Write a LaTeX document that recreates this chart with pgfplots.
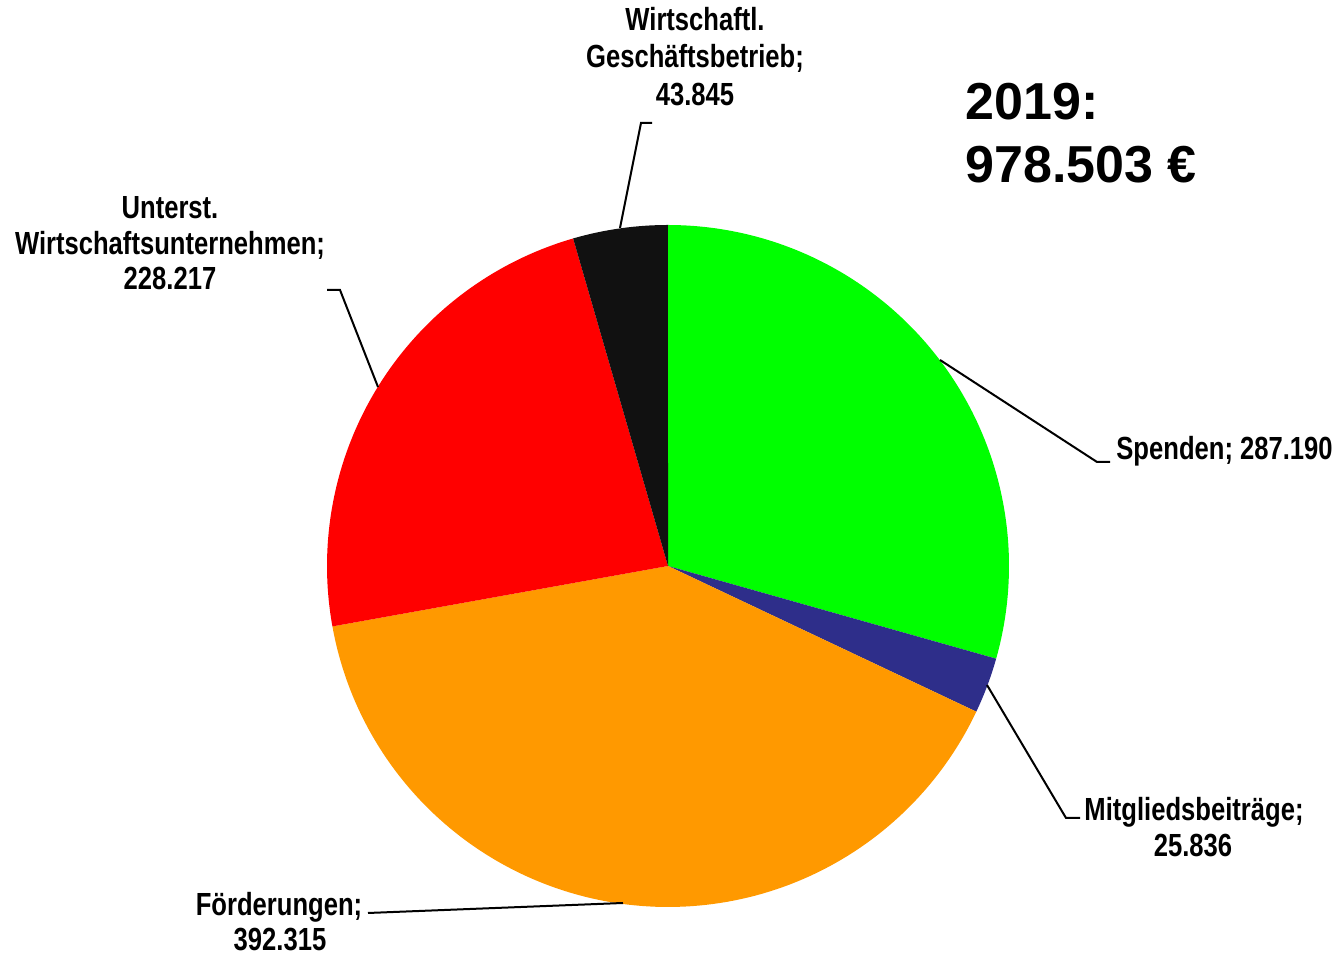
\documentclass[border=0pt]{standalone}
\usepackage{pgfplots}
\pgfplotsset{compat=1.18}
\usepackage{fontspec}
\setmainfont{Liberation Sans}
\newfontfamily\narrow{Liberation Sans}[FakeStretch=0.80]
\definecolor{cGreen}{HTML}{00FF00}
\definecolor{cNavy}{HTML}{2E2E8A}
\definecolor{cOrange}{HTML}{FF9900}
\definecolor{cRed}{HTML}{FF0000}
\definecolor{cBlack}{HTML}{111111}
\tikzset{lbl/.style={font=\narrow\bfseries\fontsize{16pt}{18pt}\selectfont, inner sep=0pt}}
% values in thousand EUR
\def\vA{287.190}% Spenden
\def\vB{25.836}%  Mitgliedsbeitraege
\def\vC{392.315}% Foerderungen
\def\vD{228.217}% Unterst. Wirtschaftsunternehmen
\def\vE{43.845}%  Wirtschaftl. Geschaeftsbetrieb
\pgfmathsetmacro\tot{\vA+\vB+\vC+\vD+\vE}
\pgfmathsetmacro\aO{90}
\pgfmathsetmacro\aA{\aO-\vA/\tot*360}
\pgfmathsetmacro\aB{\aA-\vB/\tot*360}
\pgfmathsetmacro\aC{\aB-\vC/\tot*360}
\pgfmathsetmacro\aD{\aC-\vD/\tot*360}
\pgfmathsetmacro\aE{\aD-\vE/\tot*360}
\begin{document}
\begin{tikzpicture}
\begin{axis}[
  hide axis, scale only axis, width=669pt, height=478pt,
  xmin=0, xmax=1338, ymin=0, ymax=956, clip=false,
  every axis plot/.append style={variable=\t, samples=120},
]
\addplot[draw=none] coordinates {(0,0) (1338,956)};
\addplot[fill=cGreen, draw=none, domain=\aA:\aO] ({668+341*cos(t)},{390+341*sin(t)}) -- (axis cs:668,390) -- cycle;
\addplot[fill=cNavy, draw=none, domain=\aB:\aA] ({668+341*cos(t)},{390+341*sin(t)}) -- (axis cs:668,390) -- cycle;
\addplot[fill=cOrange, draw=none, domain=\aC:\aB] ({668+341*cos(t)},{390+341*sin(t)}) -- (axis cs:668,390) -- cycle;
\addplot[fill=cRed, draw=none, domain=\aD:\aC] ({668+341*cos(t)},{390+341*sin(t)}) -- (axis cs:668,390) -- cycle;
\addplot[fill=cBlack, draw=none, domain=\aE:\aD] ({668+341*cos(t)},{390+341*sin(t)}) -- (axis cs:668,390) -- cycle;
% leader lines
\addplot[black, line width=1pt, mark=none] coordinates {(940,596) (1097,494) (1110,494)};
\addplot[black, line width=1pt, mark=none] coordinates {(987,271) (1066,138) (1080,138)};
\addplot[black, line width=1pt, mark=none] coordinates {(623,53) (368,43)};
\addplot[black, line width=1pt, mark=none] coordinates {(378,569) (340,666) (327,666)};
\addplot[black, line width=1pt, mark=none] coordinates {(620,728) (641,833) (652,833)};
% labels
\node[lbl, anchor=base west] at (axis cs:1116,496) {Spenden; 287.190};
\node[lbl, anchor=base] at (axis cs:1194,135) {Mitgliedsbeiträge;};
\node[lbl, anchor=base] at (axis cs:1193,99) {25.836};
\node[lbl, anchor=base] at (axis cs:279,40) {Förderungen;};
\node[lbl, anchor=base] at (axis cs:280,5) {392.315};
\node[lbl, anchor=base] at (axis cs:170,737) {Unterst.};
\node[lbl, anchor=base] at (axis cs:170,701) {Wirtschaftsunternehmen;};
\node[lbl, anchor=base] at (axis cs:170,666) {228.217};
\node[lbl, anchor=base] at (axis cs:695,925) {Wirtschaftl.};
\node[lbl, anchor=base] at (axis cs:695,888) {Geschäftsbetrieb;};
\node[lbl, anchor=base] at (axis cs:695,850) {43.845};
\node[font=\bfseries\fontsize{26pt}{30pt}\selectfont, inner sep=0pt, anchor=base west] at (axis cs:965,836) {2019:};
\node[font=\bfseries\fontsize{26pt}{30pt}\selectfont, inner sep=0pt, anchor=base west] at (axis cs:965,773) {978.503 €};
\end{axis}
\end{tikzpicture}
\end{document}
